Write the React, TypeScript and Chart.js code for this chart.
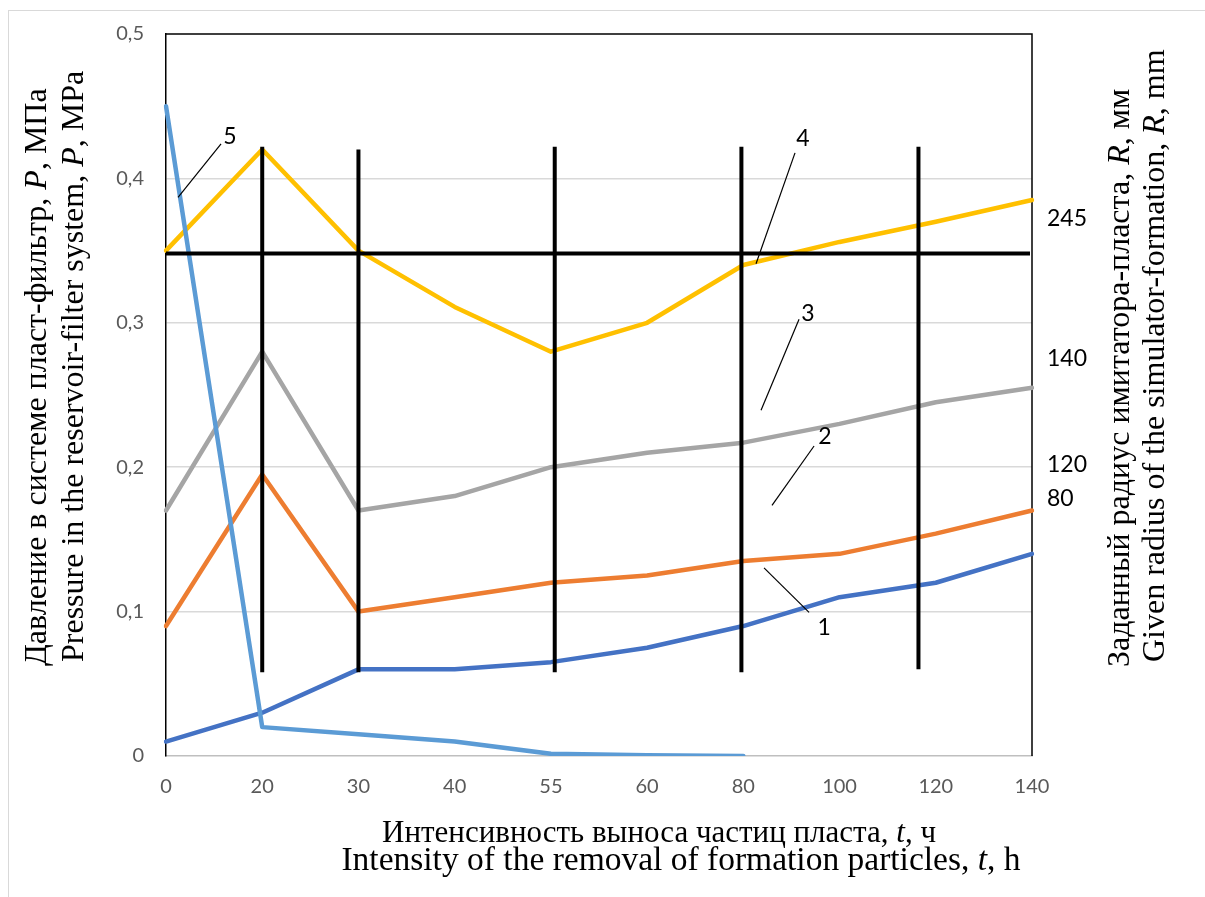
import React, { useEffect, useRef } from "react";
import { Chart, registerables } from "chart.js";

Chart.register(...registerables);

// ---------- data ----------
const categories = ["0", "20", "30", "40", "55", "60", "80", "100", "120", "140"];
const series1 = [0.01, 0.03, 0.06, 0.06, 0.065, 0.075, 0.09, 0.11, 0.12, 0.14];
const series2 = [0.09, 0.195, 0.1, 0.11, 0.12, 0.125, 0.135, 0.14, 0.154, 0.17];
const series3 = [0.17, 0.28, 0.17, 0.18, 0.2, 0.21, 0.217, 0.23, 0.245, 0.255];
const series4 = [0.35, 0.42, 0.35, 0.311, 0.28, 0.3, 0.34, 0.356, 0.37, 0.385];
const series5 = [0.45, 0.02, 0.015, 0.01, 0.0015, 0.0005, 0, null, null, null];
const seriesColors = ["#4472C4", "#ED7D31", "#A5A5A5", "#FFC000", "#5B9BD5"];

// thick black marker lines (category index / value)
const vLineX = [1, 2, 4.04, 5.98, 7.82];
const vLineTop = [0.422, 0.42, 0.422, 0.422, 0.422];
const vLineBottom = [0.058, 0.058, 0.058, 0.058, 0.06];
const hLineValue = 0.348;

// curve labels with leader lines
const curveLabels = ["1", "2", "3", "4", "5"];
const curveLabelX = [6.839, 6.849, 6.672, 6.62, 0.665];
const curveLabelY = [0.0892, 0.2209, 0.3066, 0.4273, 0.4287];
const leaderX1 = [6.683, 6.735, 6.579, 6.537, 0.572];
const leaderY1 = [0.0995, 0.2147, 0.3025, 0.4177, 0.4239];
const leaderX2 = [6.215, 6.298, 6.184, 6.132, 0.125];
const leaderY2 = [0.1303, 0.1735, 0.2394, 0.3409, 0.3868];

// radius labels on the right
const radiusLabels = ["245", "140", "120", "80"];
const radiusLabelY = [0.3724, 0.275, 0.2016, 0.1783];

const yTicks = [0, 0.1, 0.2, 0.3, 0.4, 0.5];

const overlayPlugin = {
  id: "overlay",
  beforeDatasetsDraw(chart: any) {
    const { ctx, chartArea } = chart;
    ctx.save();
    ctx.strokeStyle = "#000";
    ctx.lineWidth = 1.5;
    ctx.beginPath();
    ctx.moveTo(chartArea.left, chartArea.top);
    ctx.lineTo(chartArea.right, chartArea.top);
    ctx.lineTo(chartArea.right, chartArea.bottom);
    ctx.stroke();
    ctx.restore();
  },
  afterDatasetsDraw(chart: any) {
    const { ctx, chartArea } = chart;
    const xs = chart.scales.x;
    const ys = chart.scales.y;
    ctx.save();
    ctx.strokeStyle = "#000";
    ctx.lineWidth = 4;
    ctx.lineCap = "butt";
    ctx.beginPath();
    const hy = ys.getPixelForValue(hLineValue);
    ctx.moveTo(chartArea.left, hy);
    ctx.lineTo(chartArea.right - 2, hy);
    ctx.stroke();
    for (let i = 0; i < vLineX.length; i++) {
      const x = xs.getPixelForValue(vLineX[i]);
      ctx.beginPath();
      ctx.moveTo(x, ys.getPixelForValue(vLineTop[i]));
      ctx.lineTo(x, ys.getPixelForValue(vLineBottom[i]));
      ctx.stroke();
    }
    ctx.lineWidth = 1.2;
    for (let i = 0; i < curveLabels.length; i++) {
      ctx.beginPath();
      ctx.moveTo(xs.getPixelForValue(leaderX1[i]), ys.getPixelForValue(leaderY1[i]));
      ctx.lineTo(xs.getPixelForValue(leaderX2[i]), ys.getPixelForValue(leaderY2[i]));
      ctx.stroke();
    }
    ctx.fillStyle = "#000";
    ctx.font = "23px Lato";
    ctx.textAlign = "center";
    ctx.textBaseline = "middle";
    for (let i = 0; i < curveLabels.length; i++) {
      ctx.fillText(curveLabels[i], xs.getPixelForValue(curveLabelX[i]), ys.getPixelForValue(curveLabelY[i]));
    }
    ctx.textAlign = "left";
    for (let i = 0; i < radiusLabels.length; i++) {
      ctx.fillText(radiusLabels[i], chartArea.right + 15, ys.getPixelForValue(radiusLabelY[i]));
    }
    ctx.restore();
  },
};

export default function App() {
  const canvasRef = useRef<HTMLCanvasElement | null>(null);

  useEffect(() => {
    const all = [series1, series2, series3, series4, series5];
    const chart = new Chart(canvasRef.current as HTMLCanvasElement, {
      type: "line",
      data: {
        labels: categories,
        datasets: all.map((d, i) => ({
          label: String(i + 1),
          data: d,
          borderColor: seriesColors[i],
          backgroundColor: seriesColors[i],
          borderWidth: 4.5,
          pointRadius: 0,
          pointHoverRadius: 0,
          tension: 0,
          fill: false,
          spanGaps: false,
          borderJoinStyle: "round" as const,
          borderCapStyle: "round" as const,
          order: 5 - i,
        })),
      },
      options: {
        animation: false,
        responsive: false,
        maintainAspectRatio: false,
        layout: { padding: { top: 27, right: 173, left: 0, bottom: 0 } },
        plugins: { legend: { display: false }, tooltip: { enabled: false } },
        scales: {
          x: {
            type: "category",
            offset: false,
            grid: { display: false, drawTicks: false },
            border: { display: true, color: "#BFBFBF", width: 1.5 },
            ticks: {
              color: "#595959",
              font: { family: "Lato", size: 20 },
              padding: 19,
              maxRotation: 0,
              autoSkip: false,
            },
            afterFit: (s: any) => {
              s.height = 141;
            },
          },
          y: {
            min: 0,
            max: 0.5,
            afterBuildTicks: (s: any) => {
              s.ticks = yTicks.map((v) => ({ value: v }));
            },
            grid: {
              drawTicks: false,
              color: (c: any) =>
                c.tick && (c.tick.value === 0 || c.tick.value === 0.5) ? "rgba(0,0,0,0)" : "#D9D9D9",
              lineWidth: 1.5,
            },
            border: { display: true, color: "#000", width: 1.5 },
            ticks: {
              color: "#595959",
              font: { family: "Lato", size: 20 },
              padding: 22,
              callback: (v: any) => (Number(v) === 0 ? "0" : Number(v).toFixed(1).replace(".", ",")),
            },
            afterFit: (s: any) => {
              s.width = 166;
            },
          },
        },
      },
      plugins: [overlayPlugin],
    });
    return () => chart.destroy();
  }, []);

  const serif = (size: number): React.CSSProperties => ({
    position: "absolute",
    fontFamily: "'Liberation Serif', 'Times New Roman', serif",
    fontSize: size,
    lineHeight: size + "px",
    whiteSpace: "nowrap",
    color: "#000",
  });
  // baseline offset from line-box top for Liberation Serif with line-height = font size
  const bo = (size: number) => 0.8375 * size;
  const rot = (baselineX: number, startY: number, size = 32): React.CSSProperties => ({
    ...serif(size),
    left: baselineX - bo(size),
    top: startY,
    transformOrigin: "0 0",
    transform: "rotate(-90deg)",
  });
  const hz = (center: number, baselineY: number, size: number): React.CSSProperties => ({
    ...serif(size),
    left: center - 500,
    top: baselineY - bo(size),
    width: 1000,
    textAlign: "center",
  });

  return (
    <div style={{ position: "absolute", left: 0, top: 0, width: 1205, height: 897, overflow: "hidden", background: "#fff" }}>
      <div
        style={{
          position: "absolute",
          left: 8,
          top: 10,
          width: 1220,
          height: 920,
          border: "1.5px solid #D9D9D9",
          boxSizing: "border-box",
        }}
      />
      <canvas ref={canvasRef} width={1205} height={897} style={{ position: "absolute", left: 0, top: 0 }} />
      <div style={rot(46, 666)}>
        Давление в системе пласт-фильтр, <i>P</i>, МПа
      </div>
      <div style={rot(83, 662)}>
        Pressure in the reservoir-filter system, <i>P</i>, MPa
      </div>
      <div style={rot(1129, 667)}>
        Заданный радиус имитатора-пласта, <i>R</i>, мм
      </div>
      <div style={rot(1164, 662)}>
        Given radius of the simulator-formation, <i>R</i>, mm
      </div>
      <div style={hz(659, 842, 31)}>
        Интенсивность выноса частиц пласта, <i>t</i>, ч
      </div>
      <div style={hz(681, 870, 33.5)}>
        Intensity of the removal of formation particles, <i>t</i>, h
      </div>
    </div>
  );
}
